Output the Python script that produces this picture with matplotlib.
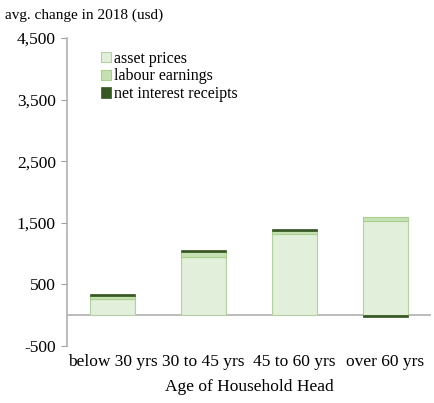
import matplotlib.pyplot as plt
import numpy as np

plt.rcParams['font.family'] = ['Liberation Serif', 'DejaVu Serif']

groups = ["below 30 yrs", "30 to 45 yrs", "45 to 60 yrs", "over 60 yrs"]
asset_prices = [258, 950, 1313, 1534]
labour_earnings = [59, 71, 59, 66]
net_interest = [27, 37, 32, -25]

fs = 12.5

fig = plt.figure(figsize=(4.35, 4.03), dpi=100)
ax = fig.add_axes([67/435, 57/403, 364/435, 308/403])

x = np.arange(len(groups))
w = 0.5
asset = np.array(asset_prices)
labour = np.array(labour_earnings)
ni = np.array(net_interest)

ax.bar(x, asset, w, color='#e2efda', edgecolor='#b4cfa3', linewidth=0.8, label='asset prices', zorder=2)
ax.bar(x, labour, w, bottom=asset, color='#c6e0b4', edgecolor='#a9d08e', linewidth=0.8, label='labour earnings', zorder=2)
ni_bottom = np.where(ni >= 0, asset + labour, 0)
ax.bar(x, ni, w, bottom=ni_bottom, color='#375623', edgecolor='#375623', linewidth=0.5, label='net interest receipts', zorder=2)

ax.axhline(0, color='#b0b0b0', linewidth=1.2, zorder=1)
ax.set_xlim(-0.5, 3.5)
ax.set_ylim(-500, 4500)
ax.set_yticks([-500, 500, 1500, 2500, 3500, 4500])
ax.set_yticklabels(['-500', '500', '1,500', '2,500', '3,500', '4,500'])
ax.set_xticks(x)
ax.set_xticklabels(groups)
ax.tick_params(axis='x', length=0, pad=6, labelsize=fs)
ax.tick_params(axis='y', length=4, color='#a0a0a0', labelsize=fs, pad=4)

for s in ['top', 'right', 'bottom']:
    ax.spines[s].set_visible(False)
ax.spines['left'].set_color('#b0b0b0')
ax.spines['left'].set_linewidth(1.2)

ax.set_xlabel('Age of Household Head', fontsize=fs, labelpad=6)
fig.text(5/435, 1 - 15/403, 'avg. change in 2018 (usd)', fontsize=11, va='center', ha='left')

ax.legend(loc='upper left', bbox_to_anchor=(0.075, 0.98), frameon=False, fontsize=11.5,
          handlelength=0.65, handleheight=0.65, handletextpad=0.2, labelspacing=0.12,
          borderaxespad=0)

fig.savefig('out.png', dpi=100)
